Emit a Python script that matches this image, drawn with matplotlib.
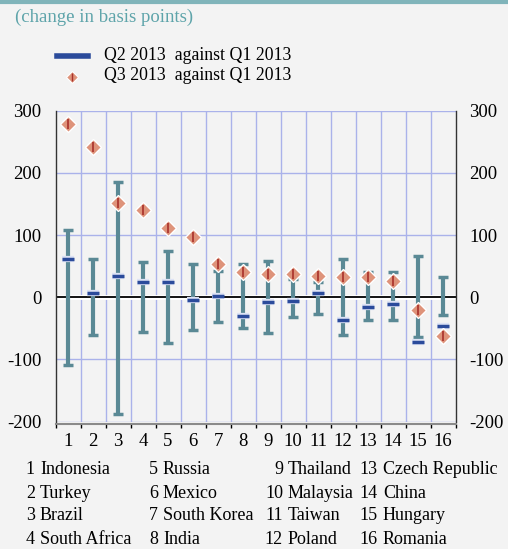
import matplotlib
matplotlib.use("Agg")
import matplotlib.pyplot as plt
import matplotlib.patheffects as pe
import numpy as np

# data
paises = ["Indonesia", "Turkey", "Brazil", "South Africa", "Russia", "Mexico",
          "South Korea", "India", "Thailand", "Malaysia", "Taiwan", "Poland",
          "Czech Republic", "China", "Hungary", "Romania"]
faixa_max = [108, 62, 186, 57, 74, 54, 42, 53, 59, 29, 24, 62, 40, 40, 66, 33]
faixa_min = [-109, -60, -188, -56, -74, -52, -39, -50, -57, -31, -27, -60, -36, -36, -64, -29]
q2_vs_q1 = [61, 7, 34, 24, 25, -4, 2, -30, -8, -6, 7, -36, -15, -10, -72, -46]
q3_vs_q1 = [278, 241, 152, 140, 111, 97, 54, 40, 38, 37, 34, 33, 32, 27, -20, -63]
yticks = [-200, -100, 0, 100, 200, 300]

W, H = 508, 549
bg = "#f3f3f3"
teal = "#5a8995"
azul = "#2b4b9b"
salmao = "#de937a"
grade = "#aab2ea"

plt.rcParams["font.family"] = ["Liberation Serif", "DejaVu Serif"]

fig = plt.figure(figsize=(W / 100, H / 100), dpi=100, facecolor=bg)
# eixo em pixels
esq, dir_, topo, base = 55.5, 455.5, 110.7, 421.7
ax = fig.add_axes([esq / W, 1 - base / H, (dir_ - esq) / W, (base - topo) / H])
ax.set_facecolor(bg)

x = np.arange(1, len(paises) + 1)
ax.set_xlim(0.5, 16.5)
ax.set_ylim(-200, 300)

# grade
for yv in yticks:
    if yv != 0:
        ax.axhline(yv, color=grade, lw=1, zorder=1)
for xv in np.arange(1.5, 16.5, 1):
    ax.axvline(xv, color=grade, lw=1, zorder=1)
ax.axhline(0, color="white", lw=3.5, zorder=2)
ax.axhline(0, color="black", lw=1.3, zorder=2)

# faixas (min-max)
ax.vlines(x, faixa_min, faixa_max, color=teal, lw=3, zorder=3)
ax.plot(x, faixa_max, ls="none", marker="_", ms=6.5, mew=2.5, color=teal, zorder=3)
ax.plot(x, faixa_min, ls="none", marker="_", ms=6.5, mew=2.5, color=teal, zorder=3)

# Q2 contra Q1
contorno = [pe.Stroke(linewidth=4.5, foreground="#dde3f5"), pe.Normal()]
ax.plot(x, q2_vs_q1, ls="none", marker="_", ms=8.5, mew=2.5, color=azul, zorder=4,
        path_effects=contorno)

# Q3 contra Q1
ax.plot(x, q3_vs_q1, ls="none", marker="D", ms=8, mfc=salmao, mec="white", mew=1, zorder=5)
ax.plot(x, q3_vs_q1, ls="none", marker="|", ms=7.5, mew=1.2, color="#a8302a", zorder=6)

# eixos
ax.set_yticks(yticks)
ax.set_yticklabels([str(v) for v in yticks])
ax.tick_params(axis="y", length=0, labelsize=13.5, pad=10, labelleft=True, labelright=True)
ax.set_xticks(x)
ax.set_xticklabels([str(i) for i in x])
ax.set_xticks(np.arange(0.5, 17, 1), minor=True)
ax.tick_params(axis="x", which="major", length=0, labelsize=13.5, pad=6)
ax.tick_params(axis="x", which="minor", length=3, width=1, color="black", direction="out")
for s in ["left", "right"]:
    ax.spines[s].set_color("#333333")
    ax.spines[s].set_linewidth(1)
ax.spines["top"].set_visible(False)
ax.spines["bottom"].set_color("#8a8a8a")
ax.spines["bottom"].set_linewidth(1.5)
ax.spines["bottom"].set_position(("outward", 2))

# linha superior e titulo
fig.add_artist(plt.Line2D([0, 1], [1 - 1.5 / H, 1 - 1.5 / H], color="#80b4ba", lw=3))
fig.text(15 / W, 1 - 17 / H, "(change in basis points)", color="#5ea4aa", fontsize=13.5,
         va="center", ha="left")

# legenda
fig.add_artist(plt.Line2D([57 / W, 88 / W], [1 - 56 / H, 1 - 56 / H], color=azul, lw=4))
fig.text(104 / W, 1 - 55 / H, "Q2 2013  against Q1 2013", fontsize=12.8, va="center")
fig.add_artist(plt.Line2D([72 / W], [1 - 77 / H], ls="none", marker="D", ms=6,
                          mfc=salmao, mec="white", mew=0.8))
fig.add_artist(plt.Line2D([72 / W], [1 - 77 / H], ls="none", marker="|", ms=5.5,
                          mew=1, color="#a8302a"))
fig.text(104 / W, 1 - 76 / H, "Q3 2013  against Q1 2013", fontsize=12.8, va="center")

# lista de paises
col_x = [35, 158, 283, 378]
lin_y = [470, 493, 516, 539]
for i, nome in enumerate(paises):
    c, l = divmod(i, 4)
    fig.text(col_x[c] / W, 1 - lin_y[l] / H, str(i + 1), fontsize=13, ha="right", va="center")
    fig.text((col_x[c] + 5) / W, 1 - lin_y[l] / H, nome, fontsize=13, ha="left", va="center")

fig.savefig("out.png", dpi=100, facecolor=bg)
